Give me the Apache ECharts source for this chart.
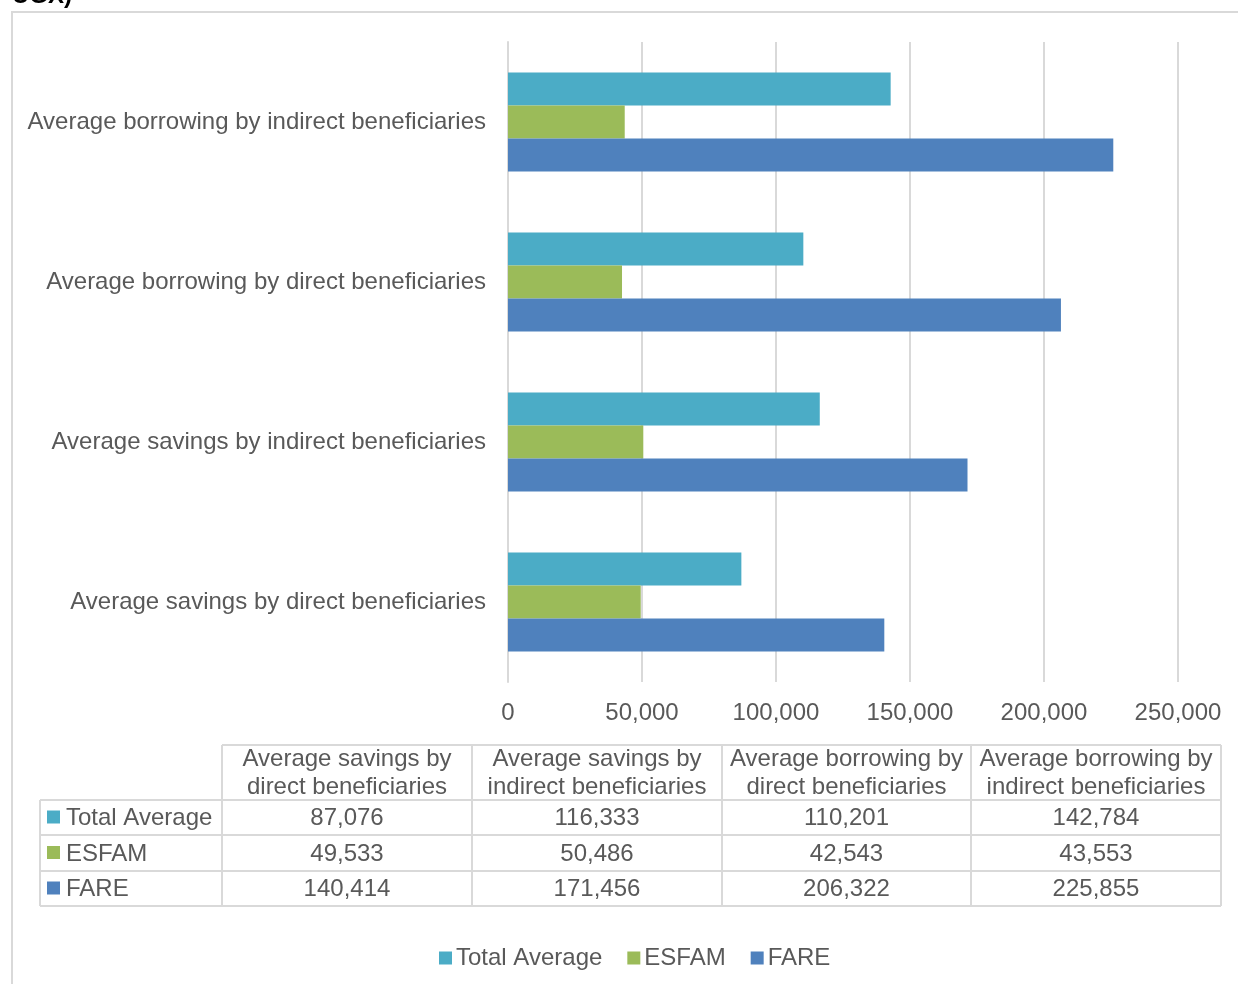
<!DOCTYPE html>
<html>
<head>
<meta charset="utf-8">
<script src="https://cdn.jsdelivr.net/npm/echarts@6/dist/echarts.min.js"></script>
<style>
html,body{margin:0;padding:0;background:#fff;}
#chart{width:1238px;height:984px;}
</style>
</head>
<body>
<div id="chart"></div>
<script>
// ---- data ----
const categories = [
  "Average savings by direct beneficiaries",
  "Average savings by indirect beneficiaries",
  "Average borrowing by direct beneficiaries",
  "Average borrowing by indirect beneficiaries"
];
const seriesNames = ["Total Average", "ESFAM", "FARE"];
const totalAverage = [87076, 116333, 110201, 142784];
const esfam = [49533, 50486, 42543, 43553];
const fare = [140414, 171456, 206322, 225855];
const xTicks = [0, 50000, 100000, 150000, 200000, 250000];
const titleTail = "UGX)";

// ---- styles ----
const colors = ["#4BACC6", "#9BBB59", "#4F81BD"];
const textColor = "#595959";
const gridColor = "#D9D9D9";
const FONT = "Arial, 'Liberation Sans', sans-serif";
const FS = 24;

const fmt = v => String(v).replace(/\B(?=(\d{3})+(?!\d))/g, ",");
const allSeries = [totalAverage, esfam, fare];

// ---- table via graphic ----
const tbl = { labelX: 40, colX: [222, 472, 722, 971, 1221], headTop: 745, rowY: [800, 835, 871, 906] };
const g = [];
const line = (x1, y1, x2, y2) => ({ type: 'line', silent: true, shape: { x1, y1, x2, y2 }, style: { stroke: gridColor, lineWidth: 2 } });
// outer chart border
g.push({ type: 'rect', silent: true, shape: { x: 12, y: 12, width: 1400, height: 1200 }, style: { fill: 'none', stroke: gridColor, lineWidth: 2 } });
// title tail (cut off at top)
g.push({ type: 'text', silent: true, x: 12, y: -16, style: { text: titleTail, font: "bold 24px " + FONT, fill: '#000', verticalAlign: 'top' } });
// header grid lines
g.push(line(tbl.colX[0], tbl.headTop, tbl.colX[4], tbl.headTop));
tbl.colX.forEach(x => g.push(line(x, tbl.headTop, x, tbl.rowY[3])));
g.push(line(tbl.labelX, tbl.rowY[0], tbl.labelX, tbl.rowY[3]));
tbl.rowY.forEach(y => g.push(line(tbl.labelX, y, tbl.colX[4], y)));
// header text
categories.forEach((c, i) => {
  const w = c.split(" ");
  const txt = w.slice(0, 3).join(" ") + "\n" + w.slice(3).join(" ");
  g.push({ type: 'text', silent: true, x: (tbl.colX[i] + tbl.colX[i + 1]) / 2, y: (tbl.headTop + tbl.rowY[0]) / 2 + 1,
    style: { text: txt, font: FS + "px " + FONT, fill: textColor, align: 'center', verticalAlign: 'middle', lineHeight: 28 } });
});
// rows
seriesNames.forEach((n, r) => {
  const cy = (tbl.rowY[r] + tbl.rowY[r + 1]) / 2;
  g.push({ type: 'rect', silent: true, shape: { x: 47, y: cy - 7, width: 13, height: 13 }, style: { fill: colors[r] } });
  g.push({ type: 'text', silent: true, x: 66, y: cy + 1, style: { text: n, font: FS + "px " + FONT, fill: textColor, verticalAlign: 'middle' } });
  allSeries[r].forEach((v, i) => {
    g.push({ type: 'text', silent: true, x: (tbl.colX[i] + tbl.colX[i + 1]) / 2, y: cy + 1,
      style: { text: fmt(v), font: FS + "px " + FONT, fill: textColor, align: 'center', verticalAlign: 'middle' } });
  });
});

const chart = echarts.init(document.getElementById('chart'), null, { renderer: 'canvas' });
chart.setOption({
  animation: false,
  color: colors,
  textStyle: { fontFamily: FONT },
  grid: { left: 508, right: 60, top: 42, height: 640, containLabel: false },
  legend: {
    data: seriesNames, left: 434, top: 941, itemWidth: 13, itemHeight: 13, itemGap: 25,
    icon: 'rect', textStyle: { fontSize: FS, color: textColor, fontFamily: FONT, padding: [0, 0, 0, -1] }
  },
  xAxis: {
    type: 'value', min: xTicks[0], max: xTicks[xTicks.length - 1], interval: xTicks[1] - xTicks[0],
    axisLine: { show: false }, axisTick: { show: false },
    splitLine: { lineStyle: { color: gridColor, width: 2 } },
    axisLabel: { formatter: v => fmt(v), fontSize: FS, color: textColor, margin: 19, fontFamily: FONT }
  },
  yAxis: {
    type: 'category', data: categories,
    axisLine: { show: true, lineStyle: { color: gridColor, width: 2 } }, axisTick: { show: false },
    axisLabel: { fontSize: FS, color: textColor, margin: 22, fontFamily: FONT, padding: [3, 0, 0, 0] }
  },
  series: seriesNames.map((n, i) => ({
    name: n, type: 'bar', data: allSeries[i], barGap: '0%', barCategoryGap: '38%'
  })),
  graphic: g
});
</script>
</body>
</html>
